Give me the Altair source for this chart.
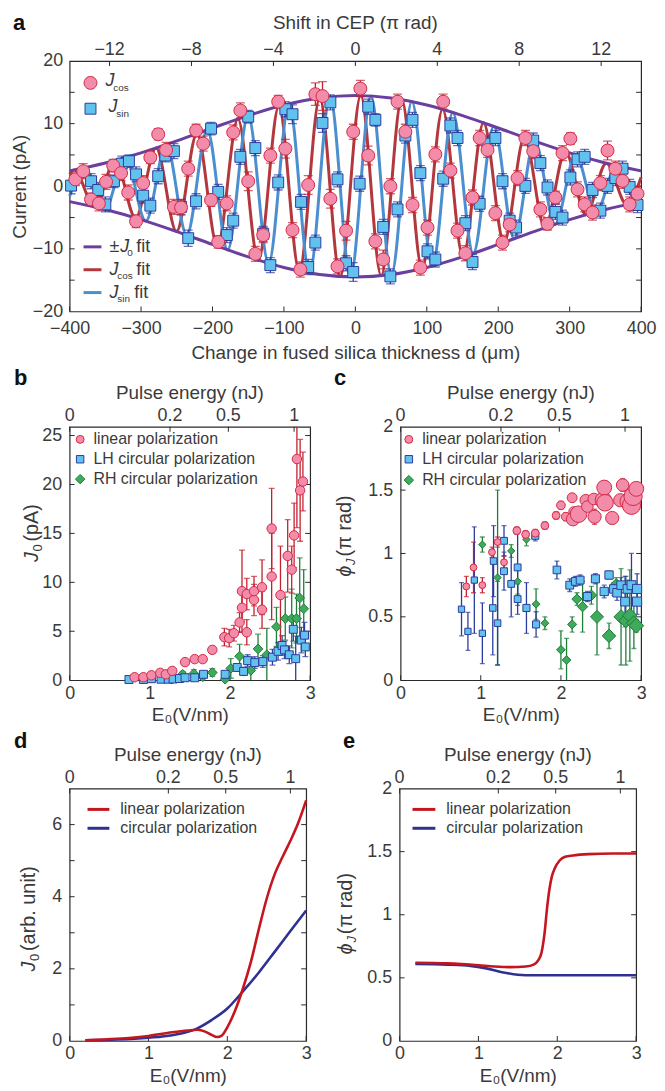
import altair as alt
import pandas as pd

# ================= DATA =================
# ---- panel a : CEP-dependent current vs fused-silica thickness ----
a_cos_d = [-392,-381,-370,-359,-349,-339,-328,-318,-307,-297,-287,-276,-265,-254,-244,-234,-223,-213,-202,-192,
           -180,-171,-161,-150,-140,-129,-119,-108,-98,-88,-77,-66,-56,-46,-35,-25,-13,-3,7,18,
           28,39,49,59,70,80,91,101,112,123,133,143,154,164,174,185,196,206,216,227,
           238,249,259,269,280,290,301,311,321,332,343,353,364,374,384,395]
a_cos_J = [1.1,2.4,-2.1,-2.75,0.7,3.3,2.1,-1.0,-5.6,0.5,4.6,8.3,5.8,-3.3,-3.4,2.8,8.9,6.8,-2.2,-8.9,
           -2.75,8.6,12.1,0.8,-10.8,-7.8,4.9,13.5,6.0,-7.0,-13.3,0.2,14.7,14.4,-2.0,-12.8,-7.1,8.7,15.6,4.9,
           -8.8,-11.7,0.0,13.5,8.7,-3.0,-13.0,-6.6,5.1,13.5,2.5,-7.1,-10.7,-1.8,7.7,5.8,-4.3,-9.0,-6.1,1.3,
           7.7,5.6,-3.7,-6.0,-1.8,5.3,7.6,-0.5,-2.9,-4.2,0.5,5.7,2.8,0.85,-2.9,-1.2]
a_cos_err = [1.0,1.2,1.0,1.2,1.2,1.0,1.2,1.2,1.0,1.2,1.0,0.9,1.2,1.2,1.2,1.2,1.0,1.2,1.0,1.0,
             1.2,1.2,1.2,1.5,1.2,1.2,1.2,1.0,1.5,1.2,1.2,1.5,1.8,2.3,1.5,1.2,1.5,1.2,1.3,1.5,
             1.2,1.5,1.2,1.2,1.2,1.2,1.2,1.2,1.2,1.2,1.2,1.2,1.2,1.2,1.2,1.2,1.2,1.2,1.2,1.2,
             1.2,1.2,1.2,1.0,1.0,1.2,0.9,1.2,1.2,1.2,1.2,1.5,1.2,1.2,1.2,1.2]
a_sin_d = [-398,-370,-360,-350,-338,-327,-317,-307,-297,-287,-276,-266,-254,-244,-234,-223,-202,-192,-180,-171,
           -161,-150,-140,-129,-119,-108,-98,-88,-76,-66,-56,-46,-35,-25,-13,-3,6,18,28,39,
           49,59,70,80,91,101,112,123,133,143,154,164,174,185,196,206,216,225,238,249,
           259,269,280,290,301,311,321,332,343,353,364,374,384,395]
a_sin_J = [0.1,0.8,-0.6,-2.9,0.8,3.6,4.0,1.9,-1.5,-3.1,1.6,4.9,5.6,-3.3,-8.3,-2.4,9.2,-0.9,-7.8,-5.5,
           4.7,11.1,6.1,-7.6,-12.6,0.6,12.3,11.5,-2.5,-12.9,-9.0,10.1,13.4,1.1,-12.3,-13.7,0.4,12.7,10.6,-6.5,
           -14.4,-3.7,8.1,10.6,2.1,-10.4,-11.7,1.2,9.7,7.7,-5.9,-12.1,-2.8,6.8,7.7,0.8,-5.5,-6.6,0.05,7.3,
           3.7,-0.2,-4.1,-5.0,1.4,4.3,4.7,-0.6,-3.9,0.05,1.3,2.8,-0.1,-3.0]
a_sin_err = [1.3,1.2,1.2,1.2,1.0,1.2,1.0,1.2,1.2,1.2,1.2,1.0,1.2,1.2,1.3,1.2,1.0,1.2,1.2,1.2,
             1.2,1.0,1.2,1.2,1.2,1.2,1.2,1.5,1.2,1.2,1.2,1.5,1.2,1.2,1.2,1.5,1.2,1.2,1.0,1.2,
             1.2,1.2,1.2,1.2,1.2,1.2,1.2,1.2,1.2,1.2,1.2,1.2,1.2,1.2,1.2,1.2,1.2,1.2,1.2,1.2,
             1.2,1.2,1.2,1.2,1.2,1.2,1.2,1.2,1.2,1.2,1.2,1.2,1.2,1.2]
a_env_d = [-400,-350,-300,-250,-200,-150,-100,-50,0,50,100,150,200,250,300,350,400]
a_env_J = [2.45,3.72,5.33,7.24,9.30,11.29,12.97,14.10,14.5,14.10,12.97,11.29,9.30,7.24,5.33,3.72,2.45]
a_cosfit_d = [-400,-393.6,-364.95,-336.3,-307.65,-279.0,-250.35,-221.7,-193.05,-164.4,-135.75,-107.1,-78.45,-49.8,
              -21.15,7.5,36.15,64.8,93.45,122.1,150.75,179.4,208.05,236.7,265.35,294.0,322.65,351.3,379.95,400]
a_cosfit_J = [1.9,2.59,-3.30,4.13,-5.07,6.11,-7.23,8.40,-9.58,10.74,-11.81,12.77,-13.54,14.11,
              -14.43,14.49,-14.29,13.84,-13.16,12.29,-11.27,10.14,-8.96,7.78,-6.63,5.55,-4.56,3.68,-2.92,1.45]
a_sinfit_d = [-400,-379.3,-350.65,-322.0,-293.35,-264.7,-236.05,-207.4,-178.75,-150.1,-121.45,-92.8,-64.15,-35.5,
              -6.85,21.8,50.45,79.1,107.75,136.4,165.05,193.7,222.35,251.0,279.65,308.3,336.95,365.6,394.25,400]
a_sinfit_J = [-1.6,2.93,-3.70,4.58,-5.57,6.66,-7.81,8.99,-10.17,11.29,-12.31,13.18,-13.85,14.30,
              -14.49,14.42,-14.10,13.53,-12.75,11.79,-10.71,9.56,-8.37,7.20,-6.08,5.04,-4.11,3.28,-2.58,-2.1]
a_d_ticks = [-400,-300,-200,-100,0,100,200,300,400]
a_J_labels = [-20,-10,0,10,20]
a_J_ticks = [-15,-10,-5,0,5,10,15]
a_cep_ticks = [-12,-8,-4,0,4,8,12]
a_cep_labels = ["−12","−8","−4","0","4","8","12"]
cep_at_400um = 13.95          # CEP shift (pi rad) at d = 400 um

# ---- panel b : J0 vs field ----
b_lin_E = [0.81,0.92,1.02,1.13,1.20,1.28,1.44,1.56,1.66,1.78,1.93,1.99,2.05,2.12,2.15,2.15,2.21,2.21,2.30,2.30,
           2.40,2.40,2.52,2.52,2.63,2.72,2.77,2.80,2.835,2.875,2.91]
b_lin_J = [0.3,0.3,0.5,0.75,0.6,0.95,1.85,2.15,2.15,3.1,4.4,4.3,4.8,5.9,7.4,9.1,8.8,4.9,8.2,9.1,
           9.5,7.2,15.5,10.6,8.7,12.7,11.3,14.8,22.6,19.4,20.3]
b_lin_err = [0.15,0.15,0.2,0.2,0.2,0.25,0.3,0.3,0.3,0.35,0.9,0.9,0.8,1.0,1.4,4.2,1.6,1.3,1.6,1.5,
             2.8,1.9,4.1,4.4,5.0,3.7,2.4,3.3,7.0,5.2,3.0]
b_lh_E = [0.74,0.92,1.02,1.14,1.23,1.29,1.37,1.44,1.56,1.67,1.94,2.09,2.17,2.22,2.31,2.41,2.53,2.60,2.65,2.68,
          2.74,2.79,2.82,2.89,2.93,2.94]
b_lh_J = [0.07,0.07,0.15,0.1,0.1,0.12,0.17,0.25,0.25,0.6,0.6,1.3,0.9,2.0,1.8,1.9,2.35,2.95,3.55,3.1,
          2.6,5.2,2.2,4.1,4.6,3.4]
b_lh_err = [0.05,0.05,0.05,0.05,0.1,0.1,0.1,0.1,0.1,0.2,0.3,0.4,0.4,0.6,0.6,0.6,0.8,0.9,1.0,0.9,
            0.9,1.2,2.3,1.3,1.3,1.0]
b_rh_E = [1.28,1.41,1.55,1.66,1.78,1.94,2.01,2.12,2.26,2.35,2.46,2.58,2.69,2.77,2.83,2.87,2.92]
b_rh_J = [0.1,0.6,0.68,0.34,0.78,0.1,1.2,2.45,1.0,3.2,2.6,5.45,6.3,6.3,6.3,8.4,7.3]
b_rh_err = [0.3,0.3,0.4,0.4,0.4,0.5,1.0,1.2,1.3,1.5,2.7,2.0,2.2,3.0,2.5,4.1,4.0]

# ---- panel c : phase vs field (w = relative marker weight) ----
c_lin_E = [0.82,0.91,1.02,1.14,1.21,1.29,1.45,1.56,1.68,1.80,1.94,2.00,2.06,2.14,2.16,2.15,2.22,2.31,2.33,2.41,
           2.42,2.53,2.54,2.55,2.64,2.74,2.77,2.84,2.88,2.90,2.94]
c_lin_phi = [0.74,0.89,0.75,1.01,1.09,0.93,1.18,1.15,1.16,1.22,1.30,1.38,1.29,1.44,1.33,1.27,1.31,1.42,1.37,1.43,
             1.29,1.42,1.52,1.40,1.28,1.42,1.54,1.41,1.38,1.45,1.51]
c_lin_err = [0.08,0.2,0.06,0.04,0.04,0.05,0.03,0.03,0.03,0.03,0.03,0.03,0.03,0.03,0.03,0.03,0.03,0.03,0.03,0.03,
             0.06,0.03,0.04,0.03,0.03,0.03,0.05,0.03,0.03,0.03,0.03]
c_lin_w = [1.1,1.1,1.1,1.1,1.1,1.1,1.3,1.3,1.3,1.3,1.3,1.5,1.5,1.8,1.8,2.85,4.2,2.3,2.3,2.3,
           2.85,4.2,3.5,4.2,2.85,2.85,2.6,4.2,5.0,5.0,3.5]
c_lh_E = [0.76,0.84,0.92,1.02,1.16,1.15,1.21,1.29,1.29,1.38,1.46,1.46,1.57,1.69,1.68,1.95,2.11,2.18,2.24,2.33,
          2.43,2.54,2.60,2.66,2.70,2.75,2.80,2.83,2.88,2.95,2.95]
c_lh_phi = [0.56,0.385,0.79,0.37,0.94,0.57,0.45,1.10,0.86,0.76,0.89,0.64,0.57,0.44,1.14,0.87,0.75,0.78,0.79,0.66,
            0.80,0.70,0.83,0.72,0.69,0.75,0.62,0.72,0.75,0.72,0.62]
c_lh_err = [0.21,0.15,0.42,0.24,0.28,0.37,0.33,0.12,0.15,0.26,0.30,0.12,0.2,0.1,0.04,0.07,0.05,0.04,0.04,0.04,
            0.04,0.05,0.03,0.05,0.06,0.06,0.2,0.07,0.25,0.12,0.1]
c_lh_w = [1.0,1.0,1.0,1.0,1.05,1.05,1.05,1.1,1.1,1.1,1.1,1.1,1.15,1.15,1.15,1.25,1.3,1.3,1.3,1.35,
          1.35,1.4,1.4,1.45,1.45,1.45,1.5,1.5,1.55,1.6,1.6]
c_rh_E = [1.02,1.21,1.38,1.46,1.57,1.69,1.80,2.00,2.07,2.14,2.20,2.27,2.38,2.45,2.60,2.69,2.75,2.81,2.86,2.91,2.94]
c_rh_phi = [1.07,0.81,1.02,0.78,1.11,0.60,0.45,0.24,0.16,0.44,0.64,0.58,0.67,0.50,0.35,0.76,0.50,0.47,0.51,0.45,0.43]
c_rh_err = [0.06,0.69,0.05,0.1,0.05,0.12,0.05,0.15,0.17,0.06,0.05,0.2,0.07,0.3,0.1,0.05,0.38,0.35,0.36,0.2,0.05]
c_rh_w = [1.2,1.2,1.2,1.2,1.2,1.3,1.3,1.5,1.5,1.6,1.9,1.9,2.0,2.8,3.0,2.0,3.2,3.2,3.3,3.5,3.5]

# ---- panel d : simulated J0 ----
d_lin_E = [0.2,0.6,1.0,1.3,1.5,1.62,1.72,1.8,1.87,1.93,2.0,2.1,2.19,2.3,2.4,2.5,2.6,2.7,2.8,2.9,3.0]
d_lin_J = [0.02,0.06,0.14,0.24,0.29,0.31,0.26,0.17,0.11,0.15,0.38,0.85,1.40,2.20,3.10,3.95,4.62,5.10,5.55,6.05,6.67]
d_cir_E = [0.2,0.6,1.0,1.3,1.6,1.8,2.0,2.2,2.4,2.6,2.8,3.0]
d_cir_J = [0.02,0.04,0.09,0.16,0.33,0.58,0.90,1.38,1.90,2.47,3.05,3.62]

# ---- panel e : simulated phase ----
e_lin_E = [0.2,0.6,1.0,1.2,1.4,1.6,1.7,1.76,1.8,1.84,1.87,1.9,1.93,1.97,2.03,2.1,2.2,2.4,2.7,3.0]
e_lin_phi = [0.62,0.615,0.60,0.59,0.585,0.59,0.605,0.64,0.70,0.86,1.05,1.20,1.30,1.37,1.43,1.46,1.47,1.48,1.485,1.485]
e_cir_E = [0.2,0.6,0.9,1.1,1.3,1.5,1.7,2.0,3.0]
e_cir_phi = [0.61,0.605,0.595,0.575,0.545,0.525,0.52,0.52,0.52]

E_ticks = [0, 1, 2, 3]
pulse_ticks = [0, 0.2, 0.5, 1]
pulse_labels = ["0", "0.2", "0.5", "1"]
pulse_at_E3 = 1.148   # pulse energy (nJ) at E0 = 3 V/nm  (E0 ~ sqrt(pulse energy))

# ================= STYLE =================
FONT = "Liberation Sans"
TXT = "#3a3a3a"
FRAME = "#2a2a2a"
PINK, RED_EDGE, RED_BAR = "#F38BAA", "#D22B45", "#C4202F"
SKY, NAVY = "#62C2EE", "#2C3C9C"
GREEN, DKGREEN = "#3DAA5C", "#1F7D38"
PURPLE, FIT_RED, FIT_BLUE = "#6B3F9F", "#B3383E", "#4B8FD1"
D_RED, D_BLUE = "#C5161F", "#2E3192"
TL = 5
LBL = 18
TTL = 19


def blank():
    return alt.Chart(alt.Data(values=[{}]))


def txt(x, y, s, size=16, style="normal", weight="normal", align="left", angle=0, color=TXT):
    return blank().mark_text(text=s, fontSize=size, fontStyle=style, fontWeight=weight, align=align,
                             baseline="middle", angle=angle, font=FONT, color=color).encode(
        x=alt.value(x), y=alt.value(y))


def sym(x, y, shape, fill, stroke, size):
    return blank().mark_point(shape=shape, filled=True, fill=fill, stroke=stroke, strokeWidth=1,
                              size=size, opacity=1).encode(x=alt.value(x), y=alt.value(y))


def seg(x1, x2, y, color, w=3):
    return blank().mark_rule(color=color, strokeWidth=w).encode(x=alt.value(x1), x2=alt.value(x2), y=alt.value(y))


def mkaxis(title, values, fmt, lp=4, tp=4):
    return alt.Axis(title=title, values=values, format=fmt, labelPadding=lp, titlePadding=tp,
                    ticks=False, domain=False, grid=False, labelFlush=False, labelOverlap=False,
                    labelFontSize=LBL, titleFontSize=TTL)


class Panel:
    """Shared x / y scales and a single bottom + left axis for every layer of one panel."""

    def __init__(self, W, H, xdom, ydom, xaxis, yaxis):
        self.W, self.H = W, H
        self.xdom, self.ydom = xdom, ydom
        self.xaxis, self.yaxis = xaxis, yaxis
        self.layers = []

    def X(self, f):
        return alt.X(f"{f}:Q", scale=alt.Scale(domain=self.xdom, nice=False, zero=False), axis=self.xaxis)

    def Y(self, f):
        return alt.Y(f"{f}:Q", scale=alt.Scale(domain=self.ydom, nice=False, zero=False), axis=self.yaxis)

    def xticks(self, vals, top=False):
        y0, y1 = (0, TL) if top else (self.H, self.H - TL)
        self.layers.append(alt.Chart(pd.DataFrame({"v": vals})).mark_rule(color=FRAME, strokeWidth=1).encode(
            x=self.X("v"), y=alt.value(y0), y2=alt.value(y1)))

    def yticks(self, vals):
        for x0, x1 in ((0, TL), (self.W, self.W - TL)):
            self.layers.append(alt.Chart(pd.DataFrame({"v": vals})).mark_rule(color=FRAME, strokeWidth=1).encode(
                y=self.Y("v"), x=alt.value(x0), x2=alt.value(x1)))

    def top_axis(self, pos, labels, title, ylab, ytitle):
        self.xticks(pos, top=True)
        self.layers.append(alt.Chart(pd.DataFrame({"v": pos, "t": labels})).mark_text(
            font=FONT, fontSize=LBL, color=TXT, baseline="middle").encode(
            x=self.X("v"), y=alt.value(ylab), text="t:N"))
        self.layers.append(txt(self.W / 2, ytitle, title, TTL, align="center"))

    def errbars(self, df, xf, yf, ef, color, cap, w=1.3):
        d = df.copy()
        d["lo"] = d[yf] - d[ef]
        d["hi"] = d[yf] + d[ef]
        base = alt.Chart(d)
        self.layers.append(base.mark_rule(color=color, strokeWidth=w, clip=True).encode(
            x=self.X(xf), y=self.Y("lo"), y2="hi:Q"))
        for f in ("lo", "hi"):
            self.layers.append(base.mark_tick(orient="horizontal", color=color, size=cap, thickness=w, clip=True).encode(
                x=self.X(xf), y=self.Y(f)))

    def line(self, df, xf, yf, color, w=3):
        self.layers.append(alt.Chart(df).mark_line(color=color, strokeWidth=w, interpolate="monotone").encode(
            x=self.X(xf), y=self.Y(yf)))

    def scatter(self, df, xf, yf, shape, fill, stroke, size=None):
        if size is None:
            mk = alt.Chart(df).mark_point(shape=shape, filled=True, fill=fill, stroke=stroke, strokeWidth=1, opacity=1)
            enc = dict(x=self.X(xf), y=self.Y(yf),
                       size=alt.Size("w:Q", scale=alt.Scale(domain=[1, 5], range=[40, 336]), legend=None))
        else:
            mk = alt.Chart(df).mark_point(shape=shape, filled=True, fill=fill, stroke=stroke, strokeWidth=1,
                                          opacity=1, size=size)
            enc = dict(x=self.X(xf), y=self.Y(yf))
        self.layers.append(mk.encode(**enc))

    def add(self, *charts):
        self.layers.extend(charts)

    def chart(self):
        return alt.layer(*self.layers).properties(width=self.W, height=self.H)


def rot_title(x, y0, parts):
    out, y = [], y0
    for s, size, italic, dx, adv in parts:
        out.append(txt(x + dx, y, s, size=size, style="italic" if italic else "normal", angle=270))
        y -= adv
    return out


# ================= PANEL a =================
pa = Panel(575, 252, [-400, 400], [-20, 20],
           mkaxis("Change in fused silica thickness d (μm)", a_d_ticks, "d", lp=8, tp=6),
           mkaxis("Current (pA)", a_J_labels, "d", lp=7, tp=3))
um_per_cep = 400.0 / cep_at_400um
cep_pos = [c * um_per_cep for c in a_cep_ticks]
df_cos = pd.DataFrame({"d": a_cos_d, "J": a_cos_J, "e": a_cos_err})
df_sin = pd.DataFrame({"d": a_sin_d, "J": a_sin_J, "e": a_sin_err})
df_env = pd.DataFrame({"d": a_env_d, "J": a_env_J})
df_envn = pd.DataFrame({"d": a_env_d, "J": [-v for v in a_env_J]})
pa.xticks(a_d_ticks)
pa.yticks(a_J_ticks)
pa.top_axis(cep_pos, a_cep_labels, "Shift in CEP (π rad)", -11, -38)
pa.line(pd.DataFrame({"d": a_cosfit_d, "J": a_cosfit_J}), "d", "J", FIT_RED)
pa.line(pd.DataFrame({"d": a_sinfit_d, "J": a_sinfit_J}), "d", "J", FIT_BLUE)
pa.line(df_env, "d", "J", PURPLE)
pa.line(df_envn, "d", "J", PURPLE)
pa.errbars(df_sin, "d", "J", "e", NAVY, 9)
pa.errbars(df_cos, "d", "J", "e", RED_BAR, 9)
pa.scatter(df_sin, "d", "J", "square", SKY, NAVY, 121)
pa.scatter(df_cos, "d", "J", "circle", PINK, RED_EDGE, 170)
pa.add(
    sym(21, 22, "circle", PINK, RED_EDGE, 170), txt(36, 20, "J", 18, style="italic"), txt(44, 27, "cos", 10),
    sym(21, 48, "square", SKY, NAVY, 121), txt(39, 46, "J", 18, style="italic"), txt(47, 53, "sin", 10),
    seg(14, 32, 187, PURPLE), txt(40, 187, "±", 18), txt(51, 187, "J", 18, style="italic"), txt(58, 193, "0", 10),
    txt(67, 187, "fit", 18),
    seg(14, 32, 210, FIT_RED), txt(40, 210, "J", 18, style="italic"), txt(48, 216, "cos", 10), txt(67, 210, "fit", 18),
    seg(14, 32, 233, FIT_BLUE), txt(40, 233, "J", 18, style="italic"), txt(48, 239, "sin", 10), txt(65, 233, "fit", 18),
    txt(-57, -38, "a", 22, weight="bold", color="#111"),
)
panel_a = pa.chart()

# ================= helpers for b-e =================
EDOM = [0, 3]
pulse_pos = [3.0 * (p / pulse_at_E3) ** 0.5 for p in pulse_ticks]   # E0 position of each pulse-energy tick


def make_panel(W, H, ydom, ylab, ytk, yfmt):
    p = Panel(W, H, EDOM, ydom, mkaxis("E₀(V/nm)", E_ticks, "d", lp=4, tp=4), mkaxis(None, ylab, yfmt, lp=8))
    p.xticks(E_ticks)
    p.yticks(ytk)
    p.top_axis(pulse_pos, pulse_labels, "Pulse energy (nJ)", -11, -34)
    return p


# ================= PANEL b =================
pb = make_panel(242, 255, [0, 25.9], [0, 5, 10, 15, 20, 25], [5, 10, 15, 20, 25], "d")
dfb_lin = pd.DataFrame({"E": b_lin_E, "J": b_lin_J, "e": b_lin_err})
dfb_lh = pd.DataFrame({"E": b_lh_E, "J": b_lh_J, "e": b_lh_err})
dfb_rh = pd.DataFrame({"E": b_rh_E, "J": b_rh_J, "e": b_rh_err})
pb.errbars(dfb_rh, "E", "J", "e", DKGREEN, 6)
pb.errbars(dfb_lh, "E", "J", "e", NAVY, 6)
pb.errbars(dfb_lin, "E", "J", "e", RED_BAR, 6)
pb.scatter(dfb_rh, "E", "J", "diamond", GREEN, DKGREEN, 95)
pb.scatter(dfb_lh, "E", "J", "square", SKY, NAVY, 64)
pb.scatter(dfb_lin, "E", "J", "circle", PINK, RED_EDGE, 90)
pb.add(
    sym(10.6, 12.7, "circle", PINK, RED_EDGE, 64), txt(24, 12.7, "linear polarization", 16),
    sym(10.6, 32.7, "square", SKY, NAVY, 56), txt(24, 32.7, "LH circular polarization", 16),
    sym(10.6, 52.7, "diamond", GREEN, DKGREEN, 90), txt(24, 52.7, "RH circular polarization", 16),
    txt(-56, -49, "b", 22, weight="bold", color="#111"),
    *rot_title(-38, 136, [("J", 20, True, 0, 10.5), ("0", 13, False, 6, 10), ("(pA)", 20, False, 0, 0)]),
)
panel_b = pb.chart()

# ================= PANEL c =================
pc = make_panel(242, 255, [0, 2], [0, 0.5, 1, 1.5, 2], [0.5, 1, 1.5], ".1~f")
dfc_lin = pd.DataFrame({"E": c_lin_E, "p": c_lin_phi, "e": c_lin_err, "w": c_lin_w})
dfc_lh = pd.DataFrame({"E": c_lh_E, "p": c_lh_phi, "e": c_lh_err, "w": c_lh_w})
dfc_rh = pd.DataFrame({"E": c_rh_E, "p": c_rh_phi, "e": c_rh_err, "w": c_rh_w})
pc.errbars(dfc_rh, "E", "p", "e", DKGREEN, 5)
pc.errbars(dfc_lh, "E", "p", "e", NAVY, 5)
pc.errbars(dfc_lin, "E", "p", "e", RED_BAR, 5)
pc.scatter(dfc_rh, "E", "p", "diamond", GREEN, DKGREEN)
pc.scatter(dfc_lh, "E", "p", "square", SKY, NAVY)
pc.scatter(dfc_lin, "E", "p", "circle", PINK, RED_EDGE)
pc.add(
    sym(8.3, 12.7, "circle", PINK, RED_EDGE, 64), txt(21.7, 12.7, "linear polarization", 16),
    sym(8.3, 32.7, "square", SKY, NAVY, 56), txt(21.7, 32.7, "LH circular polarization", 16),
    sym(8.3, 53.7, "diamond", GREEN, DKGREEN, 90), txt(21.7, 53.7, "RH circular polarization", 16),
    txt(-67, -49, "c", 22, weight="bold", color="#111"),
    *rot_title(-56, 151, [("ϕ", 20, True, 0, 12), ("J", 13, True, 6, 8.5), ("(π rad)", 20, False, 0, 0)]),
)
panel_c = pc.chart()

# ================= PANEL d =================
pd_ = make_panel(238, 254, [0, 7], [0, 2, 4, 6], [1, 2, 3, 4, 5, 6], "d")
pd_.line(pd.DataFrame({"E": d_cir_E, "J": d_cir_J}), "E", "J", D_BLUE, 2.6)
pd_.line(pd.DataFrame({"E": d_lin_E, "J": d_lin_J}), "E", "J", D_RED, 2.6)
pd_.add(
    seg(18, 40, 21, D_RED, 3), txt(51, 21, "linear polarization", 16),
    seg(18, 40, 40, D_BLUE, 3), txt(51, 40, "circular polarization", 16),
    txt(-56, -48, "d", 22, weight="bold", color="#111"),
    *rot_title(-41, 184, [("J", 20, True, 0, 10.5), ("0", 13, False, 6, 10), ("(arb. unit)", 20, False, 0, 0)]),
)
panel_d = pd_.chart()

# ================= PANEL e =================
pe = make_panel(238, 254, [0, 2], [0, 0.5, 1, 1.5, 2], [0.5, 1, 1.5], ".1~f")
pe.line(pd.DataFrame({"E": e_cir_E, "p": e_cir_phi}), "E", "p", D_BLUE, 2.6)
pe.line(pd.DataFrame({"E": e_lin_E, "p": e_lin_phi}), "E", "p", D_RED, 2.6)
pe.add(
    seg(13, 36, 21, D_RED, 3), txt(47, 21, "linear polarization", 16),
    seg(13, 36, 40, D_BLUE, 3), txt(47, 40, "circular polarization", 16),
    txt(-57, -48, "e", 22, weight="bold", color="#111"),
    *rot_title(-54, 167, [("ϕ", 20, True, 0, 12), ("J", 13, True, 6, 8.5), ("(π rad)", 20, False, 0, 0)]),
)
panel_e = pe.chart()

row_bc = alt.hconcat(panel_b, panel_c, spacing=17)
row_de = alt.hconcat(panel_d, panel_e, spacing=23)

chart = alt.vconcat(panel_a, row_bc, row_de, spacing=3).properties(
    padding={"left": 1, "top": 0, "right": 0, "bottom": 0}
).configure_view(stroke=FRAME, strokeWidth=1.2).configure_axis(
    labelFont=FONT, titleFont=FONT, labelColor=TXT, titleColor=TXT, titleFontWeight="normal"
)

chart.save("out.html", embed_options={"renderer": "svg", "actions": False})
